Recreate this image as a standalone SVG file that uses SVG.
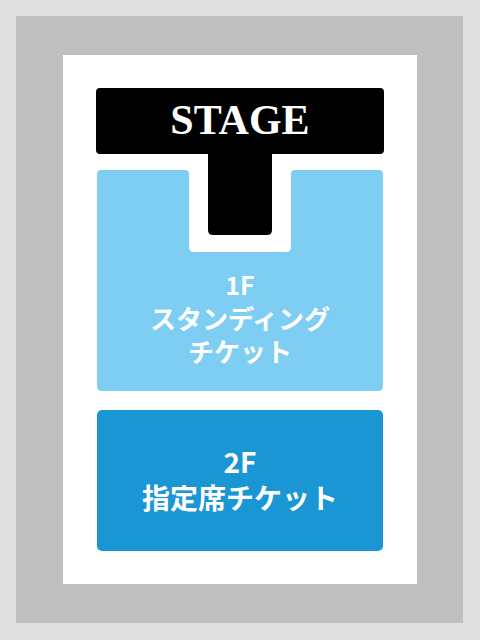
<svg xmlns="http://www.w3.org/2000/svg" width="480" height="640" viewBox="0 0 480 640">
<style>
.lbl{font-family:"Noto Sans CJK JP","Noto Sans",sans-serif;font-weight:bold;fill:#ffffff;text-anchor:middle}
</style>
<rect x="0" y="0" width="480" height="640" fill="#e0e0e0"/>
<rect x="16" y="16" width="447" height="607" fill="#c0c0c0"/>
<rect x="63" y="55" width="354" height="529" fill="#ffffff"/>
<g id="stage">
<path d="M100,88 H380 Q384,88 384,92 V150 Q384,154 380,154 H272 V230 Q272,235 267,235 H213 Q208,235 208,230 V154 H100 Q96,154 96,150 V92 Q96,88 100,88 Z" fill="#000000"/>
<text x="240" y="134" font-family="'Liberation Serif',serif" font-weight="bold" font-size="42" fill="#ffffff" text-anchor="middle">STAGE</text>
</g>
<g id="floor1">
<path d="M101,170 H185 Q189,170 189,174 V247 Q189,252 194,252 H286 Q291,252 291,247 V174 Q291,170 295,170 H379 Q383,170 383,174 V386 Q383,391 378,391 H102 Q97,391 97,386 V174 Q97,170 101,170 Z" fill="#7ecef4"/>
<text class="lbl" x="240" y="295" font-size="25">1F</text>
<text class="lbl" x="240" y="329" font-size="26">スタンディング</text>
<text class="lbl" x="240" y="362" font-size="26">チケット</text>
</g>
<g id="floor2">
<rect x="97" y="410" width="286" height="141" rx="5" fill="#1b96d4"/>
<text class="lbl" x="240" y="473" font-size="28">2F</text>
<text class="lbl" x="240" y="509" font-size="28">指定席チケット</text>
</g>
</svg>
